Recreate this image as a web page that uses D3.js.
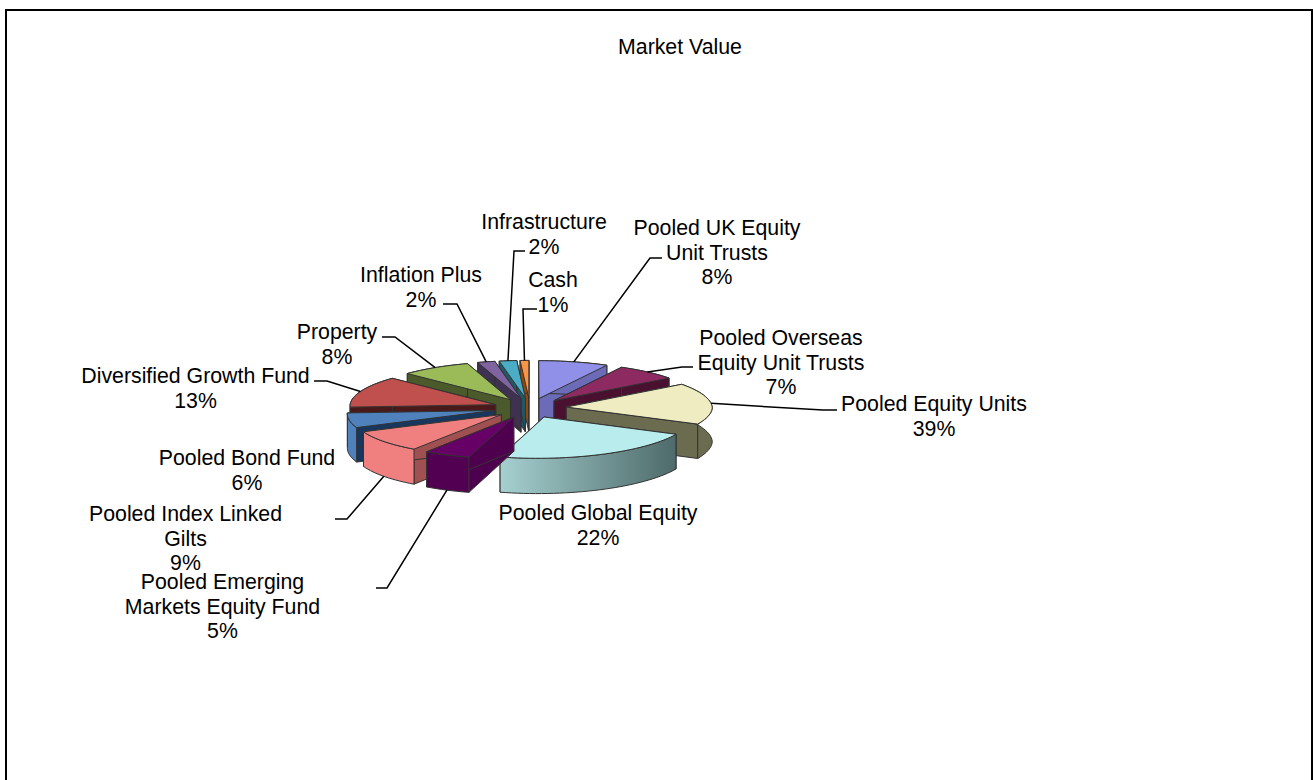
<!DOCTYPE html>
<html>
<head>
<meta charset="utf-8">
<script src="https://cdn.jsdelivr.net/npm/d3@7"></script>
<style>
    html, body { margin: 0; background: #fff; overflow: hidden; }
    text { font-family: "Liberation Sans", Arial, sans-serif; font-size: 21.3px; fill: #000; text-anchor: middle; }
</style>
</head>
<body>
<div id="chart"></div>
<script>
const title = "Market Value";
const categories = ["Pooled UK Equity Unit Trusts", "Pooled Overseas Equity Unit Trusts", "Pooled Equity Units",
    "Pooled Global Equity", "Pooled Emerging Markets Equity Fund", "Pooled Index Linked Gilts", "Pooled Bond Fund",
    "Diversified Growth Fund", "Property", "Inflation Plus", "Infrastructure", "Cash"];
// percent printed on the labels
const printedPercent = [8, 7, 39, 22, 5, 9, 6, 13, 8, 2, 2, 1];
// share each slice takes up in the picture: same as the labels, except Equity Units is drawn at about 17 not 39
const drawnShare = [8, 7, 17, 22, 5, 9, 6, 13, 8, 2, 2, 1];

const topColors = ["#9090e8", "#8e2a62", "#eeecc0", "#b9ecec", "#660066", "#f08080", "#4f81bd", "#c0504d", "#9bbb59", "#8064a2", "#4bacc6", "#f79646"];
const rimColors = ["#6b6bb8", "#4a1030", "#6b6b50", "url(#globalRim)", "#520052", "#f08080", "#4f81bd", "#4a1a1a", "#4a5a2a", "#3f3151", "#205867", "#974806"];
const wallColors = ["#6b6bb8", "#4a1030", "#6b6b50", "#5a7878", "#4e004e", "#a05050", "#17375e", "#4a1a1a", "#4a5a2a", "#3f3151", "#205867", "#974806"];

// label text lines, centre x and first baseline, then leader elbow and end
const labelLines = [["Pooled UK Equity", "Unit Trusts"], ["Pooled Overseas", "Equity Unit Trusts"], ["Pooled Equity Units"],
    ["Pooled Global Equity"], ["Pooled Emerging", "Markets Equity Fund"], ["Pooled Index Linked", "Gilts"], ["Pooled Bond Fund"],
    ["Diversified Growth Fund"], ["Property"], ["Inflation Plus"], ["Infrastructure"], ["Cash"]];
const labelX = [717, 781, 934, 598, 222.5, 185.5, 247, 195.5, 337, 421, 544, 553];
const labelY = [235, 345, 411, 520, 589, 521, 465, 383, 339, 282, 229, 287];
const leaderPts = [[[650, 258], [662, 258]], [[682, 367], [693, 367]], [[823, 410], [837, 410]], null,
    [[387, 588], [376, 588]], [[347, 519], [335, 519]], null, [[327, 381], [314, 381]], [[395, 337], [382, 337]],
    [[457, 304], [443, 304]], [[514, 251], [525, 251]], [[523, 309], [537, 309]]];

const width = 1313, height = 780;
const cx = 530, cy = 408, rx = 146, ry = 39.5, persp = 0.03, skew = 7, explode = 0.25, depth = 34;

const svg = d3.select("#chart").append("svg").attr("width", width).attr("height", height);

const grad = svg.append("defs").append("linearGradient").attr("id", "globalRim");
grad.append("stop").attr("offset", "0%").attr("stop-color", "#a6d0d0");
grad.append("stop").attr("offset", "100%").attr("stop-color", "#4e6a6a");

// frame runs off the bottom of the page
svg.append("rect").attr("x", 6).attr("y", 10).attr("width", 1306).attr("height", 800)
    .attr("fill", "#fff").attr("stroke", "#000").attr("stroke-width", 2);

svg.append("text").attr("x", 680).attr("y", 54).text(title);

const arcs = d3.pie().sort(null)(drawnShare);
const line = d3.line();

// slice polar coordinates -> screen, h = distance below the top face
function project(a, r, mid, h) {
    const X = r * Math.sin(a) + explode * Math.sin(mid);
    const Y = r * Math.cos(a) + explode * Math.cos(mid);
    const s = 1 / (1 + persp * Y);
    // the front half of the pie leans a little to the left in the picture
    return [cx + rx * X * s + skew * Math.min(Y, 0), cy - ry * Y * s + h * s];
}

const slices = arcs.map((d, i) => {
    const mid = (d.startAngle + d.endAngle) / 2;
    const n = Math.max(4, Math.ceil((d.endAngle - d.startAngle) / 0.04));
    const angles = d3.range(n + 1).map(k => d.startAngle + (d.endAngle - d.startAngle) * k / n);
    return { i, mid, angles, start: d.startAngle, end: d.endAngle };
});

const g = svg.append("g");
const order = slices.slice().sort((a, b) => Math.cos(b.mid) - Math.cos(a.mid));

order.forEach(s => {
    const p = (a, r, h) => project(a, r, s.mid, h);
    const wall = a => line([p(a, 0, 0), p(a, 1, 0), p(a, 1, depth), p(a, 0, depth)]) + "Z";
    const sg = g.append("g").attr("stroke", "#333").attr("stroke-width", 1).attr("stroke-linejoin", "round");
    sg.append("path").attr("d", wall(s.start)).attr("fill", wallColors[s.i]);
    sg.append("path").attr("d", wall(s.end)).attr("fill", wallColors[s.i]);
    const rim = s.angles.map(a => p(a, 1, 0)).concat(s.angles.slice().reverse().map(a => p(a, 1, depth)));
    sg.append("path").attr("d", line(rim) + "Z").attr("fill", rimColors[s.i]);
    const face = [p(0, 0, 0)].concat(s.angles.map(a => p(a, 1, 0)));
    sg.append("path").attr("d", line(face) + "Z").attr("fill", topColors[s.i]);
});

// leaders
slices.forEach(s => {
    if (!leaderPts[s.i]) return;
    const bottom = Math.cos(s.mid) < -0.3;
    const start = project(s.mid, 1, s.mid, bottom ? depth : 0);
    svg.append("path").attr("d", line([start].concat(leaderPts[s.i])))
        .attr("fill", "none").attr("stroke", "#000").attr("stroke-width", 1.5);
});

// labels
categories.forEach((c, i) => {
    const rows = labelLines[i].concat([printedPercent[i] + "%"]);
    rows.forEach((t, k) => {
        svg.append("text").attr("x", labelX[i]).attr("y", labelY[i] + k * 24.5).text(t);
    });
});
</script>
</body>
</html>
